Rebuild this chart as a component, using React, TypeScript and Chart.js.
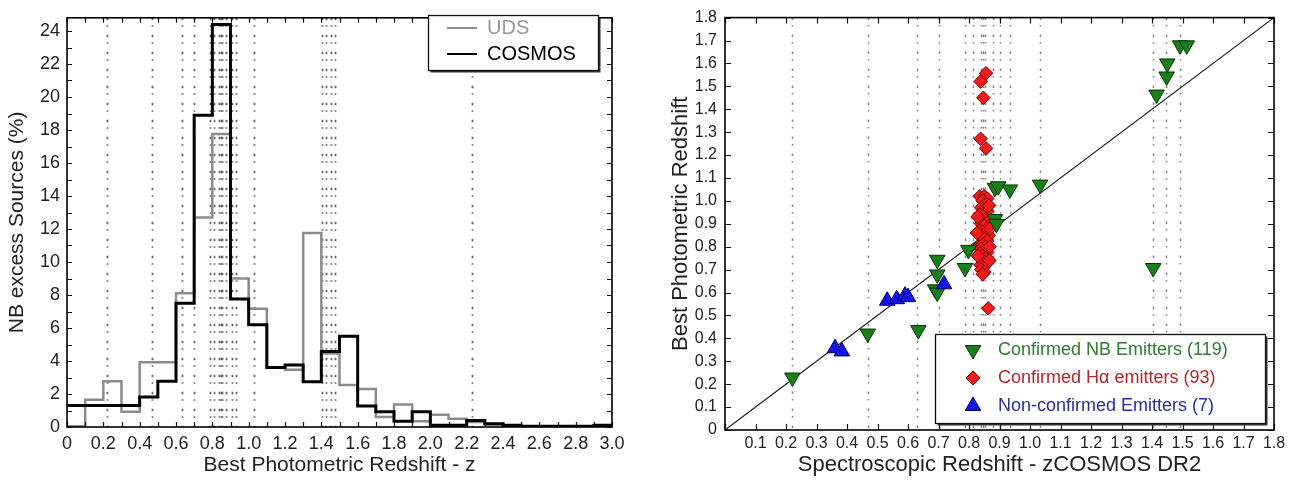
import React, { useEffect, useRef } from 'react';
import { Chart, registerables } from 'chart.js';

Chart.register(...registerables);

// ---------------- Left panel: histogram data ----------------
const binStarts = [0, 0.1, 0.2, 0.3, 0.4, 0.5, 0.6, 0.7, 0.8, 0.9, 1.0, 1.1, 1.2, 1.3, 1.4, 1.5, 1.6, 1.7, 1.8, 1.9, 2.0, 2.1, 2.2, 2.3, 2.4, 2.5, 2.6, 2.7, 2.8, 2.9];
const binEnd = 3.0;
const udsPercent = [0.05, 1.65, 2.78, 0.92, 3.92, 3.92, 8.1, 12.7, 17.76, 9.0, 7.16, 3.6, 3.47, 11.76, 4.45, 2.55, 2.3, 0.6, 1.37, 0.35, 0.75, 0.5, 0.3, 0.15, 0.05, 0.03, 0.03, 0.03, 0.03, 0.03];
const cosmosPercent = [1.3, 1.3, 1.3, 1.3, 1.82, 2.78, 7.5, 18.9, 24.4, 7.76, 6.2, 3.6, 3.76, 2.75, 4.57, 5.5, 1.27, 0.92, 0.35, 0.92, 0.1, 0.1, 0.4, 0.2, 0.1, 0.05, 0.05, 0.05, 0.05, 0.1];
const histMarkerZ = [0.22, 0.468, 0.633, 0.70, 0.789, 0.811, 0.839, 0.845, 0.853, 0.877, 0.908, 0.932, 1.028, 1.404, 1.426, 1.453, 1.477, 2.229];
const histXTicks = [0, 0.2, 0.4, 0.6, 0.8, 1.0, 1.2, 1.4, 1.6, 1.8, 2.0, 2.2, 2.4, 2.6, 2.8, 3.0];
const histYTicks = [0, 2, 4, 6, 8, 10, 12, 14, 16, 18, 20, 22, 24];
const histYMax = 24.8;

// ---------------- Right panel: scatter data ----------------
const nbSpecZ = [0.221, 0.468, 0.634, 0.696, 0.696, 0.689, 0.696, 0.787, 0.798, 0.885, 0.89, 0.885, 0.896, 0.934, 1.033, 1.404, 1.415, 1.448, 1.45, 1.492, 1.514];
const nbPhotZ = [0.229, 0.421, 0.436, 0.743, 0.679, 0.614, 0.6, 0.707, 0.786, 0.921, 0.9, 1.057, 1.064, 1.05, 1.071, 0.707, 1.464, 1.543, 1.6, 1.679, 1.679];
const haSpecZ = [0.838, 0.856, 0.847, 0.838, 0.856, 0.863, 0.835, 0.85, 0.86, 0.845, 0.855, 0.84, 0.85, 0.86, 0.835, 0.845, 0.855, 0.865, 0.84, 0.85, 0.86, 0.835, 0.845, 0.855, 0.865, 0.84, 0.85, 0.86, 0.83, 0.845, 0.855, 0.84, 0.85, 0.86, 0.835, 0.845, 0.855, 0.84, 0.85, 0.86, 0.838, 0.848, 0.84, 0.85, 0.845, 0.826, 0.868, 0.829, 0.867, 0.828, 0.866, 0.87];
const haPhotZ = [1.521, 1.557, 1.45, 1.271, 1.229, 0.531, 1.02, 1.02, 1.01, 1.0, 0.985, 0.97, 0.96, 0.955, 0.94, 0.935, 0.92, 0.91, 0.9, 0.89, 0.88, 0.87, 0.865, 0.86, 0.85, 0.845, 0.835, 0.825, 0.8, 0.81, 0.8, 0.79, 0.78, 0.775, 0.77, 0.76, 0.75, 0.745, 0.735, 0.73, 0.72, 0.71, 0.7, 0.69, 0.68, 0.86, 0.8, 0.76, 0.74, 0.93, 0.98, 0.88];
const ncSpecZ = [0.361, 0.383, 0.532, 0.563, 0.59, 0.6, 0.718];
const ncPhotZ = [0.357, 0.343, 0.564, 0.571, 0.586, 0.58, 0.636];
const specMarkerZ = [0.219, 0.47, 0.631, 0.70, 0.787, 0.814, 0.84, 0.847, 0.853, 0.88, 0.902, 0.934, 1.033, 1.404, 1.446, 1.492];
const scatterTicks = [0, 0.1, 0.2, 0.3, 0.4, 0.5, 0.6, 0.7, 0.8, 0.9, 1.0, 1.1, 1.2, 1.3, 1.4, 1.5, 1.6, 1.7, 1.8];
const oneToOne = [0, 1.8];

const FONT = '"Liberation Sans", Arial, Helvetica, sans-serif';

const zip = (xs: number[], ys: number[]) => xs.map((x, i) => ({ x, y: ys[i] }));

const vlinePlugin = {
  id: 'vlines',
  beforeDatasetsDraw(chart: any, _args: any, opts: any) {
    const { ctx, chartArea } = chart;
    const xs = chart.scales.x;
    ctx.save();
    ctx.strokeStyle = opts.color || 'rgba(90,90,90,0.9)';
    ctx.lineWidth = opts.width || 1.8;
    ctx.setLineDash(opts.dash || [2.5, 5, 1.5, 8]);
    (opts.values || []).forEach((v: number) => {
      const px = Math.round(xs.getPixelForValue(v)) + 0.5;
      ctx.beginPath();
      ctx.moveTo(px, chartArea.top);
      ctx.lineTo(px, chartArea.bottom);
      ctx.stroke();
    });
    ctx.restore();
  },
};

const frameTicksPlugin = {
  id: 'frameTicks',
  afterDatasetsDraw(chart: any, _args: any, opts: any) {
    const { ctx, chartArea } = chart;
    const { left, right, top, bottom } = chartArea;
    const xs = chart.scales.x;
    const ys = chart.scales.y;
    const len = opts.len || 5;
    ctx.save();
    ctx.strokeStyle = '#111';
    ctx.lineWidth = 1.2;
    ctx.beginPath();
    const nx = Math.round((xs.max - xs.min) / opts.xStep);
    for (let i = 0; i <= nx; i++) {
      const v = xs.min + i * opts.xStep;
      const px = Math.round(xs.getPixelForValue(v)) + 0.5;
      ctx.moveTo(px, bottom);
      ctx.lineTo(px, bottom - len);
      ctx.moveTo(px, top);
      ctx.lineTo(px, top + len);
    }
    const ny = Math.floor((ys.max - ys.min) / opts.yStep + 1e-6);
    for (let i = 0; i <= ny; i++) {
      const v = ys.min + i * opts.yStep;
      const py = Math.round(ys.getPixelForValue(v)) + 0.5;
      ctx.moveTo(left, py);
      ctx.lineTo(left + len, py);
      ctx.moveTo(right, py);
      ctx.lineTo(right - len, py);
    }
    ctx.stroke();
    ctx.lineWidth = 1.6;
    ctx.strokeStyle = '#000';
    ctx.strokeRect(left, top, right - left, bottom - top);
    ctx.restore();
  },
};

function drawMarker(ctx: CanvasRenderingContext2D, style: string, x: number, y: number, r: number, fill: string, stroke: string) {
  ctx.save();
  ctx.fillStyle = fill;
  ctx.strokeStyle = stroke;
  ctx.lineWidth = 1;
  ctx.beginPath();
  if (style === 'down' || style === 'up') {
    const s = style === 'down' ? -1 : 1;
    const h = Math.sin(Math.PI / 3) * r;
    ctx.moveTo(x, y - s * r);
    ctx.lineTo(x + h, y + s * r / 2);
    ctx.lineTo(x - h, y + s * r / 2);
  } else {
    ctx.moveTo(x, y - r);
    ctx.lineTo(x + r, y);
    ctx.lineTo(x, y + r);
    ctx.lineTo(x - r, y);
  }
  ctx.closePath();
  ctx.fill();
  ctx.stroke();
  ctx.restore();
}

const boxLegendPlugin = {
  id: 'boxLegend',
  afterDraw(chart: any, _args: any, opts: any) {
    const { ctx } = chart;
    const { x, y, w, h } = opts.box;
    ctx.save();
    ctx.fillStyle = '#333';
    ctx.fillRect(x + 2.5, y + 2.5, w, h);
    ctx.fillStyle = '#fff';
    ctx.fillRect(x, y, w, h);
    ctx.strokeStyle = '#111';
    ctx.lineWidth = 1.3;
    ctx.strokeRect(x + 0.5, y + 0.5, w, h);
    ctx.font = `${opts.fontSize}px ${FONT}`;
    ctx.textBaseline = 'middle';
    ctx.textAlign = 'left';
    opts.items.forEach((it: any) => {
      const ds = chart.data.datasets[it.dataset];
      if (it.kind === 'line') {
        ctx.strokeStyle = ds.borderColor;
        ctx.lineWidth = 2;
        ctx.beginPath();
        ctx.moveTo(it.mx - 15, it.y);
        ctx.lineTo(it.mx + 15, it.y);
        ctx.stroke();
      } else {
        drawMarker(ctx, it.kind, it.mx, it.y, it.r, ds.pointBackgroundColor, ds.pointBorderColor);
      }
      ctx.fillStyle = it.textColor;
      ctx.fillText(ds.label, it.tx, it.y);
    });
    ctx.restore();
  },
};

export default function App() {
  const leftRef = useRef<HTMLCanvasElement>(null);
  const rightRef = useRef<HTMLCanvasElement>(null);

  useEffect(() => {
    const udsPts = binStarts.map((z, i) => ({ x: z, y: udsPercent[i] }));
    udsPts.push({ x: binEnd, y: udsPercent[udsPercent.length - 1] });
    const cosPts = binStarts.map((z, i) => ({ x: z, y: cosmosPercent[i] }));
    cosPts.push({ x: binEnd, y: cosmosPercent[cosmosPercent.length - 1] });

    const tickFontL = { family: FONT, size: 18 };
    const left = new Chart(leftRef.current as HTMLCanvasElement, {
      type: 'line',
      data: {
        datasets: [
          { label: 'UDS', data: udsPts, borderColor: '#8c8c8c', borderWidth: 2.5, stepped: 'before', pointRadius: 0, fill: false, order: 2 } as any,
          { label: 'COSMOS', data: cosPts, borderColor: '#000000', borderWidth: 3, stepped: 'before', pointRadius: 0, fill: false, order: 1 } as any,
        ],
      },
      options: {
        animation: false,
        responsive: false,
        maintainAspectRatio: false,
        layout: { padding: { left: 0, top: 5, right: 28, bottom: 0 } },
        plugins: {
          legend: { display: false },
          tooltip: { enabled: false },
          vlines: { values: histMarkerZ },
          frameTicks: { xStep: 0.1, yStep: 1, len: 5 },
          boxLegend: {
            box: { x: 428, y: 15, w: 170, h: 55 },
            fontSize: 20,
            items: [
              { dataset: 0, kind: 'line', mx: 462, tx: 487, y: 28, textColor: '#999999' },
              { dataset: 1, kind: 'line', mx: 462, tx: 487, y: 54, textColor: '#000000' },
            ],
          },
        } as any,
        scales: {
          x: {
            type: 'linear', min: 0, max: binEnd,
            grid: { display: false, drawTicks: false },
            border: { display: false },
            afterBuildTicks: (s: any) => { s.ticks = histXTicks.map((v) => ({ value: v })); },
            afterFit: (s: any) => { s.height = 55; },
            ticks: { padding: 6, autoSkip: false, maxRotation: 0, color: '#222', font: tickFontL, callback: (v: any) => (v === 0 ? '0' : Number(v).toFixed(1)) },
            title: { display: true, text: 'Best Photometric Redshift - z', color: '#222', font: { family: FONT, size: 21 }, padding: { top: 0, bottom: 4 } },
          },
          y: {
            type: 'linear', min: 0, max: histYMax,
            grid: { display: false, drawTicks: false },
            border: { display: false },
            afterBuildTicks: (s: any) => { s.ticks = histYTicks.map((v) => ({ value: v })); },
            afterFit: (s: any) => { s.width = 67; },
            ticks: { padding: 7, color: '#222', font: tickFontL, callback: (v: any) => String(v) },
            title: { display: true, text: 'NB excess Sources (%)', color: '#222', font: { family: FONT, size: 21 }, padding: { top: 5, bottom: 0 } },
          },
        },
      } as any,
      plugins: [vlinePlugin, frameTicksPlugin, boxLegendPlugin],
    });

    const tickFontR = { family: FONT, size: 16 };
    const fmt = (v: any) => (v === 0 ? '0' : Number(v).toFixed(1));
    const right = new Chart(rightRef.current as HTMLCanvasElement, {
      type: 'scatter',
      data: {
        datasets: [
          { label: 'Confirmed NB Emitters (119)', data: zip(nbSpecZ, nbPhotZ), pointStyle: 'triangle', pointRotation: 180, pointRadius: 9, pointBackgroundColor: '#198019', pointBorderColor: '#0b350b', pointBorderWidth: 1, order: 2 } as any,
          { label: 'Confirmed H\u03b1 emitters (93)', data: zip(haSpecZ, haPhotZ), pointStyle: 'rectRot', pointRadius: 6.8, pointBackgroundColor: '#ee1c1c', pointBorderColor: '#7a0000', pointBorderWidth: 1, order: 3 } as any,
          { label: 'Non-confirmed Emitters (7)', data: zip(ncSpecZ, ncPhotZ), pointStyle: 'triangle', pointRotation: 0, pointRadius: 9, pointBackgroundColor: '#1414e6', pointBorderColor: '#00006a', pointBorderWidth: 1, order: 1 } as any,
          { type: 'line', label: 'one-to-one', data: zip(oneToOne, oneToOne), borderColor: '#111', borderWidth: 1.1, pointRadius: 0, showLine: true, order: 5 } as any,
        ],
      },
      options: {
        animation: false,
        responsive: false,
        maintainAspectRatio: false,
        layout: { padding: { left: 0, top: 10, right: 24, bottom: 0 } },
        plugins: {
          legend: { display: false },
          tooltip: { enabled: false },
          vlines: { values: specMarkerZ, color: 'rgba(110,110,110,0.85)', width: 1.5 },
          frameTicks: { xStep: 0.1, yStep: 0.1, len: 6 },
          boxLegend: {
            box: { x: 295, y: 334, w: 330, h: 89 },
            fontSize: 18,
            items: [
              { dataset: 0, kind: 'down', r: 9, mx: 333, tx: 358, y: 350, textColor: '#2f7d32' },
              { dataset: 1, kind: 'diamond', r: 7, mx: 333, tx: 358, y: 378, textColor: '#b3262a' },
              { dataset: 2, kind: 'up', r: 9, mx: 333, tx: 358, y: 406, textColor: '#2b2f8f' },
            ],
          },
        } as any,
        scales: {
          x: {
            type: 'linear', min: 0, max: 1.8,
            grid: { display: false, drawTicks: false },
            border: { display: false },
            afterBuildTicks: (s: any) => { s.ticks = scatterTicks.map((v) => ({ value: v })); },
            afterFit: (s: any) => { s.height = 52; },
            ticks: { padding: 4, autoSkip: false, maxRotation: 0, color: '#222', font: tickFontR, callback: (v: any) => (v === 0 ? '' : Number(v).toFixed(1)) },
            title: { display: true, text: 'Spectroscopic Redshift - zCOSMOS DR2', color: '#222', font: { family: FONT, size: 22 }, padding: { top: 0, bottom: 4 } },
          },
          y: {
            type: 'linear', min: 0, max: 1.8,
            grid: { display: false, drawTicks: false },
            border: { display: false },
            afterBuildTicks: (s: any) => { s.ticks = scatterTicks.map((v) => ({ value: v })); },
            afterFit: (s: any) => { s.width = 85; },
            ticks: { padding: 8, autoSkip: false, color: '#222', font: tickFontR, callback: fmt },
            title: { display: true, text: 'Best Photometric Redshift', color: '#222', font: { family: FONT, size: 22 }, padding: { top: 28, bottom: 0 } },
          },
        },
      } as any,
      plugins: [vlinePlugin, frameTicksPlugin, boxLegendPlugin],
    });

    return () => {
      left.destroy();
      right.destroy();
    };
  }, []);

  return (
    <div style={{ position: 'absolute', left: 0, top: 0, width: 1298, height: 482, background: '#ffffff', overflow: 'hidden' }}>
      <canvas ref={leftRef} width={640} height={482} style={{ position: 'absolute', left: 0, top: 0, width: 640, height: 482 }} />
      <canvas ref={rightRef} width={658} height={482} style={{ position: 'absolute', left: 640, top: 0, width: 658, height: 482 }} />
    </div>
  );
}
